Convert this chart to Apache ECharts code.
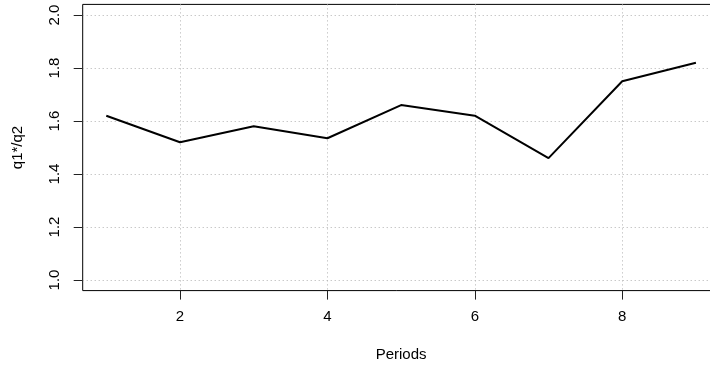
<!DOCTYPE html>
<html>
<head>
<meta charset="utf-8">
<script src="https://cdn.jsdelivr.net/npm/echarts@6/dist/echarts.min.js"></script>
<style>
  html, body { margin: 0; padding: 0; background: #fff; }
  #chart { width: 710px; height: 365px; }
</style>
</head>
<body>
<div id="chart"></div>
<script>
// Ratio q1*/q2 observed over nine periods
const periods = [1, 2, 3, 4, 5, 6, 7, 8, 9];
const ratio = [1.62, 1.52, 1.58, 1.535, 1.66, 1.62, 1.46, 1.75, 1.82];
const xTicks = [2, 4, 6, 8];
const yTicks = [1.0, 1.2, 1.4, 1.6, 1.8, 2.0];

const font = 'Liberation Sans, Arial, Helvetica, sans-serif';
const chart = echarts.init(document.getElementById('chart'), null, { renderer: 'canvas' });

const gridLine = { show: true, lineStyle: { color: '#b0b0b0', type: [1, 3], width: 1 } };

chart.setOption({
  animation: false,
  backgroundColor: '#ffffff',
  grid: {
    left: 82.7, top: 4.4, width: 636.8, height: 286.2,
    outerBoundsMode: 'none',
    containLabel: false,
    show: true, borderColor: '#000', borderWidth: 1, backgroundColor: 'transparent'
  },
  xAxis: {
    type: 'value',
    min: 0.68, max: 9.32,
    name: 'Periods',
    nameLocation: 'middle',
    nameGap: 57,
    nameTextStyle: { fontFamily: font, fontSize: 15, color: '#000' },
    axisLine: { show: false },
    axisTick: { show: true, customValues: xTicks, length: 9, lineStyle: { color: '#222', width: 1 } },
    axisLabel: { customValues: xTicks, margin: 19, fontFamily: font, fontSize: 15, color: '#000' },
    splitLine: gridLine
  },
  yAxis: {
    type: 'value',
    min: 0.96, max: 2.04,
    name: 'q1*/q2',
    nameLocation: 'middle',
    nameGap: 57,
    nameTextStyle: { fontFamily: font, fontSize: 15, color: '#000' },
    axisLine: { show: false },
    axisTick: { show: true, customValues: yTicks, length: 9, lineStyle: { color: '#222', width: 1 } },
    axisLabel: {
      customValues: yTicks, rotate: 90, margin: 20,
      fontFamily: font, fontSize: 15, color: '#000',
      formatter: v => v.toFixed(1)
    },
    splitLine: gridLine
  },
  series: [{
    type: 'line',
    data: periods.map((p, i) => [p, ratio[i]]),
    symbol: 'none',
    lineStyle: { color: '#000', width: 2 },
    clip: false
  }]
});
</script>
</body>
</html>
